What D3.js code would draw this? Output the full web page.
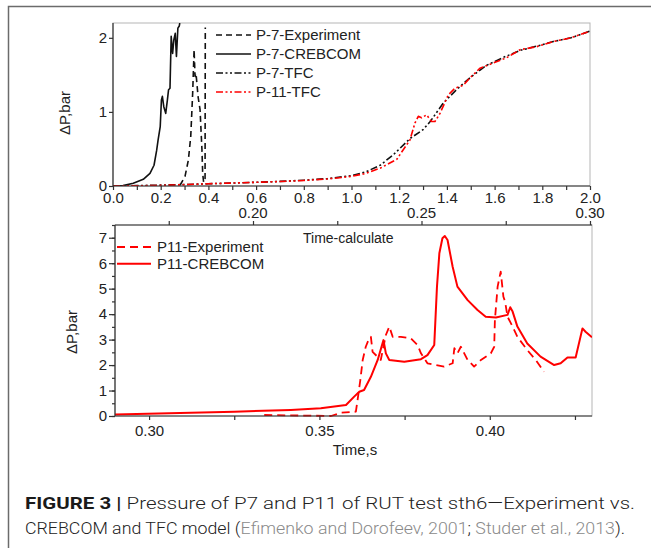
<!DOCTYPE html>
<html>
<head>
<meta charset="utf-8">
<script src="https://cdn.jsdelivr.net/npm/d3@7"></script>
<style>
  body { margin: 0; background: #fff; }
  text { font-family: "Liberation Sans", Arial, sans-serif; fill: #222; }
</style>
</head>
<body>
<div id="chart"></div>
<script>
// ---------- data ----------
// top panel: x is the P7 time axis (0..2), y is dP in bar
const topXTicks = [0, 0.2, 0.4, 0.6, 0.8, 1.0, 1.2, 1.4, 1.6, 1.8, 2.0];
const topYTicks = [0, 1, 2];
const calcTicks = [0.175, 0.20, 0.225, 0.25, 0.275, 0.30];
const calcLabels = [0.20, 0.25, 0.30];

const p7Crebcom = [[0,0],[0.042,0.005],[0.085,0.036],[0.127,0.09],[0.155,0.17],[0.172,0.28],
  [0.183,0.48],[0.189,0.62],[0.198,0.80],[0.203,1.16],[0.207,1.21],[0.213,1.07],[0.221,0.98],
  [0.228,1.16],[0.233,1.30],[0.239,1.32],[0.244,2.02],[0.25,1.79],[0.255,1.97],[0.261,2.06],
  [0.266,1.75],[0.272,2.13],[0.278,2.16],[0.28,2.2]];
const p7Experiment = [[0.281,0.01],[0.302,0.13],[0.316,0.35],[0.326,0.67],[0.334,1.25],[0.34,1.84],
  [0.344,1.48],[0.348,1.52],[0.353,1.34],[0.357,1.2],[0.365,1.03],[0.369,0.76],[0.373,0.49],
  [0.376,0.17],[0.38,0.05],[0.386,0.1],[0.387,2.14]];
const p7Tfc = [[0,0],[0.1,0.005],[0.2,0.012],[0.3,0.02],[0.4,0.03],[0.5,0.04],[0.6,0.05],[0.7,0.062],
  [0.8,0.078],[0.9,0.1],[1.0,0.14],[1.06,0.19],[1.12,0.28],[1.175,0.42],[1.245,0.64],[1.30,0.76],
  [1.33,0.87],[1.385,1.12],[1.44,1.30],[1.5,1.47],[1.567,1.63],[1.64,1.74],[1.707,1.83],[1.78,1.89],
  [1.846,1.95],[1.92,2.0],[2.0,2.09]];
const p11Tfc = [[0,0],[0.1,0.002],[0.2,0.008],[0.3,0.018],[0.4,0.03],[0.5,0.04],[0.6,0.05],[0.7,0.06],
  [0.8,0.075],[0.9,0.095],[1.0,0.13],[1.06,0.17],[1.12,0.24],[1.19,0.36],[1.217,0.49],[1.245,0.62],
  [1.266,0.85],[1.28,0.94],[1.294,0.92],[1.315,0.96],[1.336,0.87],[1.35,0.87],[1.371,0.98],
  [1.406,1.23],[1.434,1.32],[1.469,1.36],[1.497,1.46],[1.539,1.59],[1.595,1.66],[1.65,1.73],
  [1.707,1.84],[1.776,1.88],[1.846,1.95],[1.92,2.0],[2.0,2.09]];

// bottom panel: time in s, dP in bar
const botXTicks = [0.30, 0.325, 0.35, 0.375, 0.40, 0.425];
const botXLabels = [0.30, 0.35, 0.40];
const botYTicks = [0, 1, 2, 3, 4, 5, 6, 7];

const p11Crebcom = [[0.29,0.06],[0.325,0.17],[0.3416,0.24],[0.3504,0.30],[0.3578,0.43],[0.3602,0.76],
  [0.3617,0.95],[0.3631,1.02],[0.3651,1.54],[0.3671,2.2],[0.3688,2.98],[0.3695,2.46],[0.3705,2.2],
  [0.3749,2.13],[0.3798,2.23],[0.3817,2.39],[0.3837,2.79],[0.3845,5.08],[0.3852,6.39],[0.3861,6.98],
  [0.3868,7.07],[0.3876,6.91],[0.3891,5.86],[0.3905,5.08],[0.3935,4.55],[0.3964,4.16],[0.3988,3.9],
  [0.4018,3.87],[0.4052,3.97],[0.406,4.27],[0.4067,4.10],[0.4081,3.51],[0.411,2.85],[0.4149,2.33],
  [0.4189,2.0],[0.4208,2.07],[0.4228,2.30],[0.4252,2.30],[0.4272,3.44],[0.4281,3.31],[0.43,3.09]];
const p11Experiment = [[0.3338,0.04],[0.3534,0.0],[0.3563,0.13],[0.3607,0.17],[0.3612,0.63],[0.362,1.41],
  [0.3627,2.2],[0.3636,2.72],[0.3646,3.05],[0.3651,3.11],[0.3656,2.52],[0.368,2.2],[0.3695,3.18],
  [0.3705,3.51],[0.3715,3.11],[0.3739,3.11],[0.3768,3.05],[0.3788,2.79],[0.3798,2.46],[0.3817,2.07],
  [0.3866,1.94],[0.3891,2.07],[0.3896,2.66],[0.3905,2.46],[0.3915,2.72],[0.3925,2.46],[0.3935,2.2],
  [0.3954,1.94],[0.3974,2.2],[0.4003,2.46],[0.4013,2.72],[0.4015,3.77],[0.4023,5.08],[0.4032,5.67],
  [0.404,4.68],[0.4045,4.49],[0.4052,3.9],[0.4067,3.51],[0.4081,3.11],[0.411,2.59],[0.4135,2.2],
  [0.4159,1.74]];

const topSeries = [
  {name: "P-7-Experiment", data: p7Experiment, color: "#111", dash: "6,4", w: 1.6},
  {name: "P-7-CREBCOM", data: p7Crebcom, color: "#111", dash: null, w: 1.6},
  {name: "P-7-TFC", data: p7Tfc, color: "#111", dash: "7,2.5,2,2.5,2,2.5", w: 1.6},
  {name: "P-11-TFC", data: p11Tfc, color: "#f00", dash: "7,2.5,2,2.5,2,2.5", w: 1.6}
];
const botSeries = [
  {name: "P11-Experiment", data: p11Experiment, color: "#f00", dash: "8,5", w: 1.8},
  {name: "P11-CREBCOM", data: p11Crebcom, color: "#f00", dash: null, w: 2}
];

// ---------- drawing ----------
const W = 651, H = 548;
const svg = d3.select("#chart").append("svg").attr("width", W).attr("height", H);

// outer figure frame (top and left edges show)
svg.append("path").attr("d", "M8.5,548 V6.5 H651")
  .style("fill", "none").style("stroke", "#6b6b6b").style("stroke-width", 1.5);

const xTop = d3.scaleLinear().domain([0, 2]).range([113, 590]);
const yTop = d3.scaleLinear().domain([0, 2.2]).range([186, 23]);
const xCalc = d3.scaleLinear().domain([0.20, 0.30]).range([253, 590]);
const xBot = d3.scaleLinear().domain([0.29, 0.43]).range([115, 592]);
const yBot = d3.scaleLinear().domain([0, 7.5]).range([416, 225]);

function drawLines(g, series, xs, ys) {
  let line = d3.line().x(d => xs(d[0])).y(d => ys(d[1]));
  g.selectAll(".series").data(series).enter()
    .append("path")
    .attr("class", "series")
    .attr("d", d => line(d.data))
    .style("fill", "none")
    .style("stroke", d => d.color)
    .style("stroke-width", d => d.w)
    .style("stroke-dasharray", d => d.dash)
    .style("stroke-linejoin", "round");
}

function styleAxis(g) {
  g.select(".domain").remove();
  g.selectAll("line").style("stroke", "#333").style("stroke-width", 1.2);
  g.selectAll("text").style("font-size", "15px").style("fill", "#222");
}

// ----- top panel -----
let gTop = svg.append("g");
gTop.append("rect").attr("x", 113).attr("y", 23).attr("width", 477).attr("height", 163)
  .style("fill", "none").style("stroke", "#b5b5b5").style("stroke-width", 1);

let clipTop = svg.append("clipPath").attr("id", "clipTop")
  .append("rect").attr("x", 113).attr("y", 23).attr("width", 477).attr("height", 163);
let gTopLines = gTop.append("g").attr("clip-path", "url(#clipTop)");
drawLines(gTopLines, topSeries, xTop, yTop);

let topXMinor = d3.range(0, 2.01, 0.1);
gTop.append("g").attr("transform", "translate(0,186)")
  .call(d3.axisBottom(xTop).tickValues(topXMinor).tickSize(4).tickPadding(2)
    .tickFormat(d => topXTicks.some(t => Math.abs(t - d) < 1e-6) ? d3.format(".1f")(d) : ""))
  .call(styleAxis);
gTop.append("g").attr("transform", "translate(113,0)")
  .call(d3.axisLeft(yTop).tickValues(topYTicks).tickSize(4).tickPadding(2).tickFormat(d3.format("d")))
  .call(styleAxis);
gTop.append("line").attr("x1", 113).attr("x2", 113).attr("y1", 23).attr("y2", 186)
  .style("stroke", "#333").style("stroke-width", 1.2);
gTop.append("line").attr("x1", 113).attr("x2", 590).attr("y1", 186).attr("y2", 186)
  .style("stroke", "#333").style("stroke-width", 1.2);

// time-calculate labels under the top axis
gTop.selectAll(".calcLabel").data(calcLabels).enter()
  .append("text")
  .attr("x", d => xCalc(d))
  .attr("y", 213)
  .attr("dy", "0.35em")
  .attr("text-anchor", "middle")
  .style("font-size", "15px")
  .text(d => d3.format(".2f")(d));

gTop.append("text")
  .attr("transform", "translate(65,113) rotate(-90)")
  .attr("text-anchor", "middle").attr("dy", "0.35em")
  .style("font-size", "15px").text("ΔP,bar");

// top legend
let legTop = gTop.selectAll(".legTop").data(topSeries).enter().append("g")
  .attr("transform", (d, i) => "translate(0," + (35 + i * 19) + ")");
legTop.append("line").attr("x1", 216).attr("x2", 251).attr("y1", 0).attr("y2", 0)
  .style("stroke", d => d.color).style("stroke-width", d => d.w)
  .style("stroke-dasharray", d => d.dash);
legTop.append("text").attr("x", 256).attr("y", 0).attr("dy", "0.35em")
  .style("font-size", "15px").text(d => d.name);

// ----- bottom panel -----
let gBot = svg.append("g");
gBot.append("rect").attr("x", 115).attr("y", 225).attr("width", 477).attr("height", 191)
  .style("fill", "none").style("stroke", "#b5b5b5").style("stroke-width", 1);

let clipBot = svg.append("clipPath").attr("id", "clipBot")
  .append("rect").attr("x", 115).attr("y", 224).attr("width", 477).attr("height", 193);
let gBotLines = gBot.append("g").attr("clip-path", "url(#clipBot)");
drawLines(gBotLines, botSeries, xBot, yBot);

// top axis (time-calculate) ticks pointing up
gBot.append("g").attr("transform", "translate(0,225)")
  .call(d3.axisTop(xCalc).tickValues(calcTicks).tickSize(4).tickFormat(""))
  .call(styleAxis);
gBot.append("g").attr("transform", "translate(0,416)")
  .call(d3.axisBottom(xBot).tickValues(botXTicks).tickSize(4).tickPadding(5)
    .tickFormat(d => botXLabels.some(t => Math.abs(t - d) < 1e-6) ? d3.format(".2f")(d) : ""))
  .call(styleAxis);
gBot.append("g").attr("transform", "translate(115,0)")
  .call(d3.axisLeft(yBot).tickValues(d3.range(0, 7.51, 0.5)).tickSize(3).tickFormat(""))
  .call(styleAxis);
gBot.append("g").attr("transform", "translate(115,0)")
  .call(d3.axisLeft(yBot).tickValues(botYTicks).tickSize(6).tickPadding(2).tickFormat(d3.format("d")))
  .call(styleAxis);
[[115, 225, 115, 416], [115, 416, 592, 416], [115, 225, 592, 225]].forEach(l => {
  gBot.append("line").attr("x1", l[0]).attr("y1", l[1]).attr("x2", l[2]).attr("y2", l[3])
    .style("stroke", "#333").style("stroke-width", 1.2);
});

gBot.append("text").attr("x", 303).attr("y", 238).attr("dy", "0.35em")
  .style("font-size", "14px").text("Time-calculate");
gBot.append("text").attr("x", 355).attr("y", 450).attr("dy", "0.35em")
  .attr("text-anchor", "middle").style("font-size", "15px").text("Time,s");
gBot.append("text")
  .attr("transform", "translate(72,332) rotate(-90)")
  .attr("text-anchor", "middle").attr("dy", "0.35em")
  .style("font-size", "15px").text("ΔP,bar");

// bottom legend
let legBot = gBot.selectAll(".legBot").data(botSeries).enter().append("g")
  .attr("transform", (d, i) => "translate(0," + (247 + i * 16.7) + ")");
legBot.append("line").attr("x1", 117).attr("x2", 151).attr("y1", 0).attr("y2", 0)
  .style("stroke", d => d.color).style("stroke-width", d => d.w)
  .style("stroke-dasharray", d => d.dash);
legBot.append("text").attr("x", 157).attr("y", 0).attr("dy", "0.35em")
  .style("font-size", "15px").text(d => d.name);

// ----- caption -----
let cap1 = svg.append("text").attr("x", 25).attr("y", 503).attr("dy", "0.35em")
  .attr("textLength", 610).attr("lengthAdjust", "spacingAndGlyphs")
  .style("font-size", "16.5px").style("font-weight", 300)
  .style("font-family", "Roboto, 'Liberation Sans', sans-serif");
cap1.append("tspan").style("font-weight", "bold").style("fill", "#1a1a1a").text("FIGURE 3 | ");
cap1.append("tspan").style("fill", "#222")
  .text("Pressure of P7 and P11 of RUT test sth6\u2014Experiment vs.");

let cap2 = svg.append("text").attr("x", 25).attr("y", 528).attr("dy", "0.35em")
  .attr("textLength", 600).attr("lengthAdjust", "spacingAndGlyphs")
  .style("font-size", "16.5px").style("font-weight", 300)
  .style("font-family", "Roboto, 'Liberation Sans', sans-serif");
cap2.append("tspan").style("fill", "#222").text("CREBCOM and TFC model (");
cap2.append("tspan").style("fill", "#8a8a8a").text("Efimenko and Dorofeev, 2001");
cap2.append("tspan").style("fill", "#222").text("; ");
cap2.append("tspan").style("fill", "#8a8a8a").text("Studer et al., 2013");
cap2.append("tspan").style("fill", "#222").text(").");
</script>
</body>
</html>
